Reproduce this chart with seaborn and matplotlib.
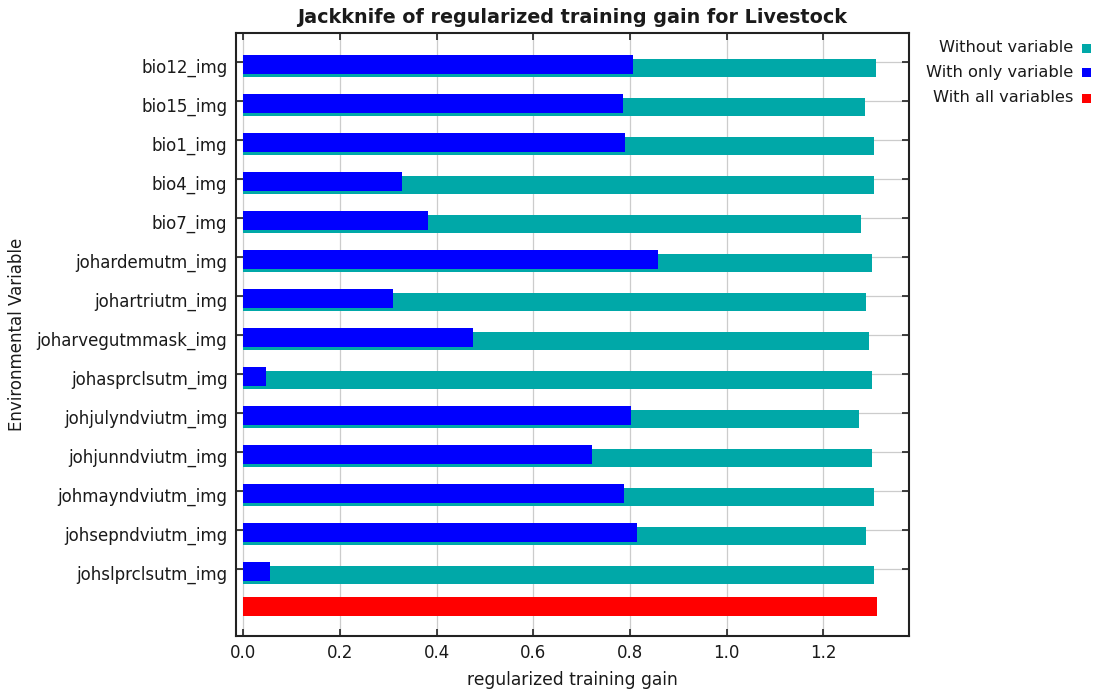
import numpy as np
import matplotlib
matplotlib.use("Agg")
import matplotlib.pyplot as plt
import matplotlib.transforms as mtransforms
from matplotlib.patches import Rectangle
import seaborn as sns

# --- Data ---
variables = ["bio12_img", "bio15_img", "bio1_img", "bio4_img", "bio7_img",
             "johardemutm_img", "johartriutm_img", "joharvegutmmask_img",
             "johasprclsutm_img", "johjulyndviutm_img", "johjunndviutm_img",
             "johmayndviutm_img", "johsepndviutm_img", "johslprclsutm_img"]
without_variable = [1.308, 1.285, 1.304, 1.304, 1.277, 1.300, 1.289,
                    1.295, 1.300, 1.273, 1.300, 1.304, 1.289, 1.304]
with_only_variable = [0.807, 0.786, 0.790, 0.329, 0.383, 0.857, 0.310,
                      0.476, 0.046, 0.801, 0.722, 0.788, 0.815, 0.056]
with_all_variables = [1.310]
x_ticks = [0.0, 0.2, 0.4, 0.6, 0.8, 1.0, 1.2]

legend_labels = ["Without variable", "With only variable", "With all variables"]
colors = ["#00a8a8", "#0000ff", "#ff0000"]

sns.set_theme(style="white")
plt.rcParams["font.family"] = ["DejaVu Sans"]

fig = plt.figure(figsize=(10.97, 6.94), dpi=100)
ax = fig.add_axes([0.2149, 0.0836, 0.8286 - 0.2149, 0.9524 - 0.0836])

pos = np.arange(len(variables))

# --- Bars ---
sns.barplot(x=without_variable, y=pos + 0.15, orient="h", native_scale=True,
            color=colors[0], saturation=1, width=0.46, linewidth=0, ax=ax, zorder=2)
sns.barplot(x=with_only_variable, y=pos + 0.06, orient="h", native_scale=True,
            color=colors[1], saturation=1, width=0.49, linewidth=0, ax=ax, zorder=3)
sns.barplot(x=with_all_variables, y=[len(variables) - 0.04], orient="h", native_scale=True,
            color=colors[2], saturation=1, width=0.49, linewidth=0, ax=ax, zorder=3)

# --- Axes styling ---
txt = "#1a1a1a"
ax.set_xlim(-0.0157, 1.377)
ax.set_ylim(14.72, -0.74)
ax.set_xticks(x_ticks)
ax.set_xticklabels([f"{t:.1f}" for t in x_ticks], fontsize=12, color=txt)
ax.set_yticks(pos)
ax.set_yticklabels(variables, fontsize=12, color=txt)
ax.tick_params(axis="both", which="both", direction="in", length=5, width=1.2,
               top=True, right=True, bottom=True, left=True, color="#222222", pad=6)
# labels in the original sit a little below their tick marks
shift = mtransforms.ScaledTranslation(0, -4 / 100, fig.dpi_scale_trans)
for lab in ax.get_yticklabels():
    lab.set_transform(lab.get_transform() + shift)
ax.grid(True, color="#cccccc", linewidth=0.9, zorder=0)
ax.set_axisbelow(True)
for s in ax.spines.values():
    s.set_color("#222222")
    s.set_linewidth(1.5)

ax.set_xlabel("regularized training gain", fontsize=12.3, color=txt, labelpad=6)
ax.set_ylabel("Environmental Variable", fontsize=12, color=txt, labelpad=8)
ax.set_title("Jackknife of regularized training gain for Livestock",
             fontsize=13.8, fontweight="bold", color=txt, pad=7)

# --- Legend (right aligned text, square on the right) ---
for i, (lab, col) in enumerate(zip(legend_labels, colors)):
    y = 1 - (48 + 25 * i) / 694
    fig.text(1073 / 1097, y, lab, ha="right", va="center", fontsize=11.7, color=txt)
    fig.add_artist(Rectangle((1082 / 1097, y - 4.5 / 694), 9 / 1097, 9 / 694,
                             transform=fig.transFigure, facecolor=col, edgecolor="none"))

fig.savefig("out.png", dpi=100)
